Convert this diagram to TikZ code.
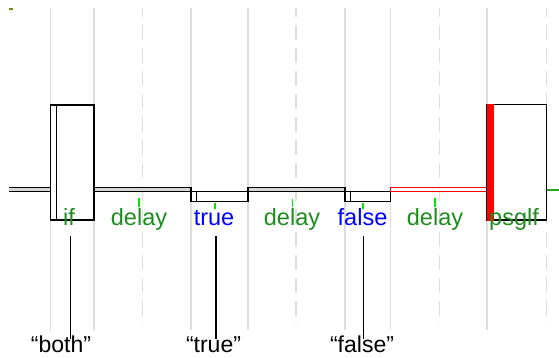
\documentclass[tikz,border=0pt]{standalone}
\usepackage{fontspec}
\setmainfont{Liberation Sans}
\definecolor{gridgray}{RGB}{224,220,217}
\definecolor{wiregray}{RGB}{215,215,215}
\definecolor{labgreen}{RGB}{30,140,30}
\definecolor{tickgreen}{RGB}{0,230,0}
\definecolor{outgreen}{RGB}{40,170,40}
\definecolor{markolive}{RGB}{130,130,20}
\begin{document}
\begin{tikzpicture}[x=1pt,y=-1pt,
  gridline/.style={draw=gridgray, line width=1.5pt},
  griddash/.style={gridline, dash pattern=on 15pt off 8pt, dash phase=6pt},
  blk/.style={draw=black, line width=1.1pt, fill=white, inner sep=0pt, outer sep=0pt, anchor=north west},
  lab/.style={font=\fontsize{23.5}{23.5}\selectfont, anchor=base, inner sep=0pt},
  glab/.style={lab, text=labgreen},
  blab/.style={lab, text=blue},
  tickmark/.style={draw=tickgreen, line width=1.5pt},
  callline/.style={draw=black, line width=1.6pt},
  calltext/.style={font=\fontsize{23}{23}\selectfont, anchor=base, inner sep=0pt, text=black},
]
\useasboundingbox (0,0) rectangle (559,357);
\fill[white] (0,0) rectangle (559,357);
% grid lines
\foreach \x in {50.5,94,191,248,345,390.5,487} \draw[gridline] (\x,8) -- (\x,330);
\foreach \x in {142.5,296,439.5,546.7} \draw[griddash] (\x,8) -- (\x,325);
% small mark
\fill[markolive] (9,8.3) rectangle (12.7,10);
% input wire
\fill[wiregray] (9,187.3) rectangle (50.5,191.7);
\draw[black, line width=1.1pt] (9,187.3) -- (50.5,187.3) (9,191.7) -- (50.5,191.7);
% if block
\node[blk, minimum width=43.5pt, minimum height=115pt] (ifb) at (50.5,105) {};
\draw[black, line width=1.1pt] (56.5,105) -- (56.5,220);
% delay 1
\node[blk, fill=wiregray, minimum width=97pt, minimum height=4.4pt] (d1) at (94,187.3) {};
% true block
\node[blk, minimum width=57pt, minimum height=10pt] (tb) at (191,191.7) {};
\draw[black, line width=1.1pt] (196.5,191.7) -- (196.5,201.7);
% delay 2
\node[blk, fill=wiregray, minimum width=97pt, minimum height=4.4pt] (d2) at (248,187.3) {};
% false block
\node[blk, minimum width=45.5pt, minimum height=10pt] (fb) at (345,191.7) {};
\draw[black, line width=1.1pt] (350.5,191.7) -- (350.5,201.7);
% delay 3 (red)
\node[blk, draw=red, fill=white, minimum width=96.5pt, minimum height=4.4pt] (d3) at (390.5,187.3) {};
% psglf block
\node[blk, minimum width=59.7pt, minimum height=115.5pt] (pb) at (487,104.5) {};
\fill[red] (486.7,104) rectangle (494,220.5);
% output
\coordinate (out) at (559,190);
\draw[outgreen, line width=1.1pt] (pb.east |- out) -- (out);
% ticks
\draw[tickmark] (139,198) -- (139,207);
\draw[tickmark] (215,203) -- (215,209);
\draw[tickmark] (292.7,199) -- (292.7,207);
\draw[tickmark] (363,203) -- (363,209);
\draw[tickmark] (435,198) -- (435,207);
% labels
\node[glab] (lif) at (69,225) {if};
\node[glab] (ld1) at (139,225) {delay};
\node[blab] (ltrue) at (214,225) {true};
\node[glab] (ld2) at (292,225) {delay};
\node[blab] (lfalse) at (362.5,225) {false};
\node[glab] (ld3) at (435,225) {delay};
\node[glab] (lps) at (514,225) {psglf};
% callouts
\node[calltext] (cboth) at (61,352) {“both”};
\node[calltext] (ctrue) at (213.5,352) {“true”};
\node[calltext] (cfalse) at (362,352) {“false”};
\coordinate (pboth) at (70.5,236);
\coordinate (ptrue) at (216,236);
\coordinate (pfalse) at (363.5,236);
\coordinate (eboth) at (70.5,339);
\coordinate (etrue) at (216,339);
\coordinate (efalse) at (363.5,339);
\draw[callline] (pboth) -- (eboth);
\draw[callline] (ptrue) -- (etrue);
\draw[callline] (pfalse) -- (efalse);
\end{tikzpicture}
\end{document}
